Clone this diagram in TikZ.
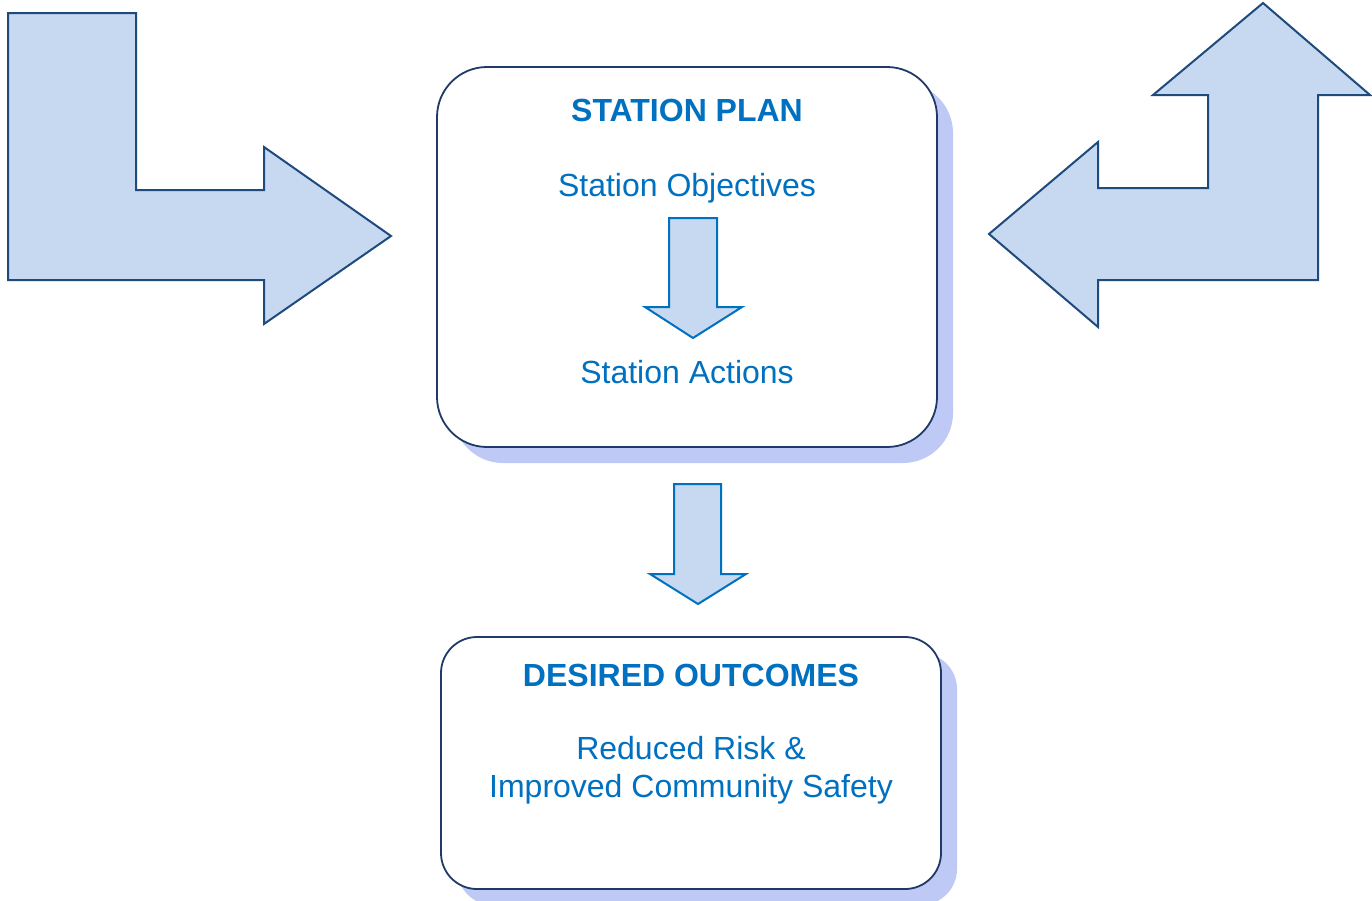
\documentclass[tikz,border=0pt]{standalone}
\usepackage{fontspec}
\setmainfont{Liberation Sans}
\definecolor{txtblue}{HTML}{0070C0}
\definecolor{arrfill}{HTML}{C6D9F0}
\definecolor{navy}{HTML}{1F4A7D}
\definecolor{boxline}{HTML}{1F3A66}
\definecolor{shadowc}{HTML}{BFC9F5}
\begin{document}
\begin{tikzpicture}[x=1pt,y=-1pt,
  bigarrow/.style={fill=arrfill,draw=navy,line width=2pt,line join=miter},
  smallarrow/.style={fill=arrfill,draw=txtblue,line width=2pt,line join=miter},
  boxstyle/.style={draw=boxline,fill=white,line width=1.8pt,inner sep=0pt},
  shadowbox/.style={fill=shadowc,draw=none},
  title/.style={text=txtblue,font=\fontsize{32}{38}\selectfont\bfseries,anchor=base},
  body/.style={text=txtblue,font=\fontsize{32}{38}\selectfont,anchor=base,align=center}]
\useasboundingbox (0,0) rectangle (1372,900);
% shadows
\fill[shadowc,rounded corners=50pt] (453,83) rectangle (953,463);
\fill[shadowc,rounded corners=36pt] (457,653) rectangle (957,905);
% boxes
\node[boxstyle,rounded corners=50pt,minimum width=500pt,minimum height=380pt] (plan) at (687,257) {};
\node[boxstyle,rounded corners=36pt,minimum width=500pt,minimum height=252pt] (outc) at (691,763) {};
% big arrows
\draw[bigarrow] (8,13) -- (136,13) -- (136,190) -- (264,190) -- (264,147) -- (391,236) -- (264,324) -- (264,280) -- (8,280) -- cycle;
\draw[bigarrow] (1263,3) -- (1370,95) -- (1318,95) -- (1318,280) -- (1098,280) -- (1098,327) -- (989,234) -- (1098,142) -- (1098,188) -- (1208,188) -- (1208,95) -- (1153,95) -- cycle;
% texts
\node[title] (t1) at (687,121) {STATION PLAN};
\node[body] (obj) at (687,196) {Station Objectives};
\node[body] (act) at (687,383) {Station Actions};
\node[title] (t2) at (691,686) {DESIRED OUTCOMES};
\node[body] (r1) at (691,759) {Reduced Risk \&};
\node[body] (r2) at (691,797) {Improved Community Safety};
% small arrows
\draw[smallarrow] (669,218) -- (717,218) -- (717,307) -- (742,307) -- (693,338) -- (645,307) -- (669,307) -- cycle;
\draw[smallarrow] (674,484) -- (721,484) -- (721,574) -- (746,574) -- (698,604) -- (650,574) -- (674,574) -- cycle;
\end{tikzpicture}
\end{document}
